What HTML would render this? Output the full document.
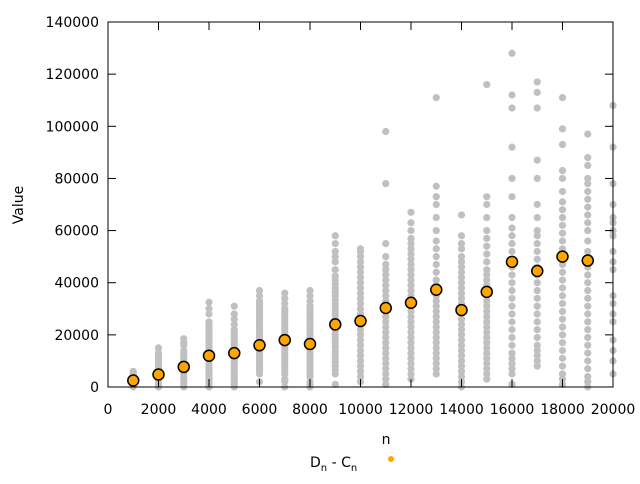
<!DOCTYPE html>
<html><head><meta charset="utf-8"><style>
body{margin:0;background:#fff;font-family:"DejaVu Sans","Liberation Sans",sans-serif;}
svg text{font-family:"DejaVu Sans","Liberation Sans",sans-serif;font-size:14px;fill:#000;}
</style></head><body>
<svg id="chart" width="640" height="480" viewBox="0 0 640 480" xmlns="http://www.w3.org/2000/svg">
<g id="gray"></g>
<g id="means"></g>
<rect x="108" y="22" width="505" height="365" fill="none" stroke="#000" stroke-width="1"/>
<g id="axes"></g>
<text x="0" y="0" transform="translate(23,205) rotate(-90)" text-anchor="middle">Value</text>
<text x="386" y="444" text-anchor="middle">n</text>
<g>
<text x="310" y="467">D<tspan font-size="10" dy="4">n</tspan><tspan dy="-4"> - C</tspan><tspan font-size="10" dy="4">n</tspan></text>
<circle cx="391" cy="459" r="3" fill="#ffa500"/>
</g>
</svg>
<script>
const xTicks=[0,2000,4000,6000,8000,10000,12000,14000,16000,18000,20000];
const yTicks=[0,20000,40000,60000,80000,100000,120000,140000];
const meanN=[1000,2000,3000,4000,5000,6000,7000,8000,9000,10000,11000,12000,13000,14000,15000,16000,17000,18000,19000];
const meanV=[2500,4800,7700,12000,13000,16000,18000,16500,24000,25300,30300,32300,37300,29500,36500,48000,44500,50000,48500];
const sampleN=[1000,2000,3000,4000,5000,6000,7000,8000,9000,10000,11000,12000,13000,14000,15000,16000,17000,18000,19000,20000];
const sampleV=[
[0,1,2,3,4,5,6],
[0,1,2,3,4,5,6,7,8,9,10,11,12,13,15],
[0,1,2,3,4,5,6,7,8,9,10,11,12,13,14,16,17,18.5],
[0,1,2,3,4,5,6,7,8,9,10,11,12,13,14,15,16,17,18,19,20,21,22,23,24,25,28,30,32.5],
[0,1,2,3,4,5,6,7,8,9,10,11,12,13,14,15,16,17,18,19,20,21,22,24,26,28,31],
[2,5,6,7,8,9,10,11,12,13,14,15,16,17,18,19,20,21,22,23,24,25,26,27,28,29,30,31,32,33,35,37],
[0,2,3,5,6,7,8,9,10,11,12,13,14,15,16,17,18,19,20,21,22,23,24,25,26,27,28,29,30,32,34,36],
[0,1,2,4,5,6,7,8,9,10,11,12,13,14,15,16,17,18,19,20,21,22,23,24,25,26,27,28,29,30,31,33,35,37],
[1,5,6.5,8,9.5,11,12.5,14,15.5,17,18.5,20,21.5,23,24.5,26,27.5,29,30.5,32,33.5,35,36.5,38,39.5,41,42.5,45,48,50,52,55,58],
[2,4,6,8,10,12,14,16,18,20,22,24,26,28,30,32,34,36,38,40,42,44,46,48,50,52,53],
[1,3,5,7,9,11,13,15,17,19,21,23,25,27,29,31,33,35,37,39,41,43,45,47,50,55,78,98],
[3,5,7,9,11,13,15,17,19,21,23,25,27,29,31,33,35,37,39,41,43,45,47,49,51,53,55,57,60,63,67],
[5,7,9,11,13,15,17,19,21,23,25,27,29,31,33,35,37,39,41,44,47,50,53,56,60,65,70,73,77,111],
[0,2,4,6,8,10,12,14,16,18,20,22,24,26,28,30,32,34,36,38,40,42,44,46,48,50,53,55,58,66],
[3,5,7,9,11,13,15,17,19,21,23,25,27,29,31,33,35,37,39,41,43,45,48,51,54,57,60,65,70,73,116],
[1,5,7,9,11,13,16,19,22,25,28,31,34,37,40,43,46,49,52,55,58,61,65,73,80,92,107,112,128],
[8,10,12,14,16,19,22,25,28,31,34,37,40,43,46,49,52,55,58,60,65,70,80,87,107,113,117],
[1,3,5,8,11,14,17,20,23,26,29,32,35,38,41,44,47,50,53,56,59,62,65,68,71,75,80,83,93,99,111],
[0,2,4,7,10,13,16,19,22,25,28,31,34,37,40,43,46,52,56,60,63,66,69,72,75,78,80,85,88,97],
[5,10,14,18,25,28,32,35,45,48,52,58,60,63,65,70,78,92,108]
];
const X=n=>108+n*505/20000, Y=v=>387-v*365/140000;
const NS='http://www.w3.org/2000/svg';
function mk(tag,attrs,parent){const e=document.createElementNS(NS,tag);for(const k in attrs)e.setAttribute(k,attrs[k]);parent.appendChild(e);return e;}
const axes=document.getElementById('axes'),gray=document.getElementById('gray'),means=document.getElementById('means');
xTicks.forEach(t=>{
 const l=mk('line',{x1:X(t),x2:X(t),y1:387,y2:379,stroke:'#000'},axes);
 
 
 const l2=mk('line',{x1:X(t),x2:X(t),y1:22,y2:30,stroke:'#000'},axes);
 
 
 const tx=mk('text',{x:X(t),y:414,'text-anchor':'middle'},axes);tx.textContent=t;
 
 
});
yTicks.forEach(t=>{
 const l=mk('line',{x1:108,x2:116,y1:Y(t),y2:Y(t),stroke:'#000'},axes);
 
 
 const l2=mk('line',{x1:605,x2:613,y1:Y(t),y2:Y(t),stroke:'#000'},axes);
 
 
 const tx=mk('text',{x:99,y:Y(t)+5,'text-anchor':'end'},axes);tx.textContent=t;
 
 
});
sampleN.forEach((n,i)=>sampleV[i].forEach(v=>{
 const c=mk('circle',{cx:X(n),cy:Y(v*1000),r:3.6,fill:'#c0c0c0'},gray);
 
 
}));
meanN.forEach((n,i)=>{
 const c=mk('circle',{cx:X(n),cy:Y(meanV[i]),r:5.5,fill:'#ffa500',stroke:'#000','stroke-width':1.5},means);
 
 
});
</script>
</body></html>
